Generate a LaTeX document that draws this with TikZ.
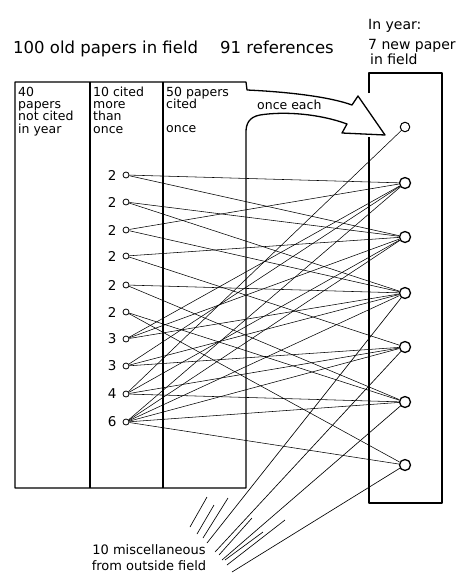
\documentclass[tikz,border=0pt]{standalone}
\usepackage{fontspec}
\setmainfont{DejaVu Sans}
\usetikzlibrary{positioning}

\begin{document}
\begin{tikzpicture}[
    x=1pt, y=-1pt,
    every node/.style={inner sep=0pt},
    boxline/.style={line width=1.3pt, line join=round},
    oldpaper/.style={circle, draw, line width=0.8pt, minimum size=6pt},
    newpaper/.style={circle, draw, line width=1.3pt, minimum size=11pt},
    cite/.style={line width=0.55pt},
    heading/.style={font=\fontsize{16.5}{18}\selectfont, anchor=base west},
    newhead/.style={font=\fontsize{14}{16}\selectfont, anchor=base west},
    collab/.style={font=\fontsize{12.5}{13}\selectfont, anchor=base west},
    citecount/.style={font=\fontsize{13.5}{14}\selectfont},
    misclab/.style={font=\fontsize{13}{15}\selectfont, anchor=base}
]
\useasboundingbox (0,0) rectangle (457,578);

% headings
\node[heading] (oldhead) at (13,53) {100 old papers in field};
\node[heading] (refhead) at (220,53) {91 references};
\node[newhead] (newhead1) at (368,30) {In year:};
\node[newhead] (newhead2) at (368,49) {7 new paper};
\node[newhead] (newhead3) at (370,65) {in field};

% old papers box with the arrow
\draw[boxline] (246,488) -- (15,488) -- (15,82) -- (246,82) -- (247,90)
    .. controls (290,92) and (330,97) .. (352,105)
    -- (358,96) -- (385,135) -- (342,133) -- (347,124)
    .. controls (320,114) and (285,111) .. (260,115)
    .. controls (249,117) and (246,124) .. (246,132) -- cycle;
\draw[boxline] (90,82) -- (90,488);
\draw[boxline] (163,82) -- (163,488);

% new papers box
\draw[boxline] (369,93) -- (369,73) -- (442,73) -- (442,503) -- (369,503) -- (369,137);

% column texts
\node[collab] (notcited1) at (18,96) {40};
\node[collab] (notcited2) at (18,108) {papers};
\node[collab] (notcited3) at (18,120.5) {not cited};
\node[collab] (notcited4) at (18,133) {in year};
\node[collab] (manycited1) at (93,96) {10 cited};
\node[collab] (manycited2) at (93,108) {more};
\node[collab] (manycited3) at (93,120.5) {than};
\node[collab] (manycited4) at (93,133) {once};
\node[collab] (oncecited1) at (166,96) {50 papers};
\node[collab] (oncecited2) at (166,108.5) {cited};
\node[collab] (oncecited3) at (166,132) {once};
\node[collab] (onceeach) at (257,109) {once each};

% papers cited more than once
\node[oldpaper] (l1) at (126,175) {};
\node[oldpaper] (l2) at (126,202) {};
\node[oldpaper] (l3) at (126,230) {};
\node[oldpaper] (l4) at (126,256) {};
\node[oldpaper] (l5) at (126,285) {};
\node[oldpaper] (l6) at (126,312) {};
\node[oldpaper] (l7) at (126,339) {};
\node[oldpaper] (l8) at (126,366) {};
\node[oldpaper] (l9) at (126,394) {};
\node[oldpaper] (l10) at (126,422) {};
\foreach \i/\n in {1/2,2/2,3/2,4/2,5/2,6/2,7/3,8/3,9/4,10/6}
    \node[citecount, left=6pt of l\i] (n\i) {\n};

% new papers
\node[newpaper, minimum size=9.5pt, line width=1pt] (r1) at (405,127) {};
\node[newpaper] (r2) at (405,183) {};
\node[newpaper] (r3) at (405,237) {};
\node[newpaper] (r4) at (405,293) {};
\node[newpaper] (r5) at (405,347) {};
\node[newpaper] (r6) at (405,402) {};
\node[newpaper] (r7) at (405,465) {};

% citations
\foreach \a/\b in {1/2,1/3,2/3,2/4,3/2,3/4,4/3,4/5,5/4,5/6,6/6,6/7,
    7/2,7/3,7/4,8/2,8/4,8/5,9/1,9/3,9/5,9/6,10/2,10/3,10/4,10/5,10/6,10/7}
    \draw[cite] (l\a) -- (r\b);

% miscellaneous from outside field
\coordinate (m4) at (207,543);
\coordinate (m5) at (215,552);
\coordinate (m6) at (222,560);
\coordinate (m7) at (232,572);
\foreach \b in {4,5,6,7}
    \draw[cite, line width=0.65pt] (m\b) -- (r\b);
\foreach \p/\q in {{207,497}/{190,527},{214,505}/{197,534},{228,498}/{203,538},
    {252,518}/{219,555},{263,532}/{225,560},{285,520}/{227,565}}
    \draw[cite, line width=0.65pt] (\p) -- (\q);
\node[misclab] (misc1) at (149,554) {10 miscellaneous};
\node[misclab] (misc2) at (149,570) {from outside field};
\end{tikzpicture}
\end{document}
